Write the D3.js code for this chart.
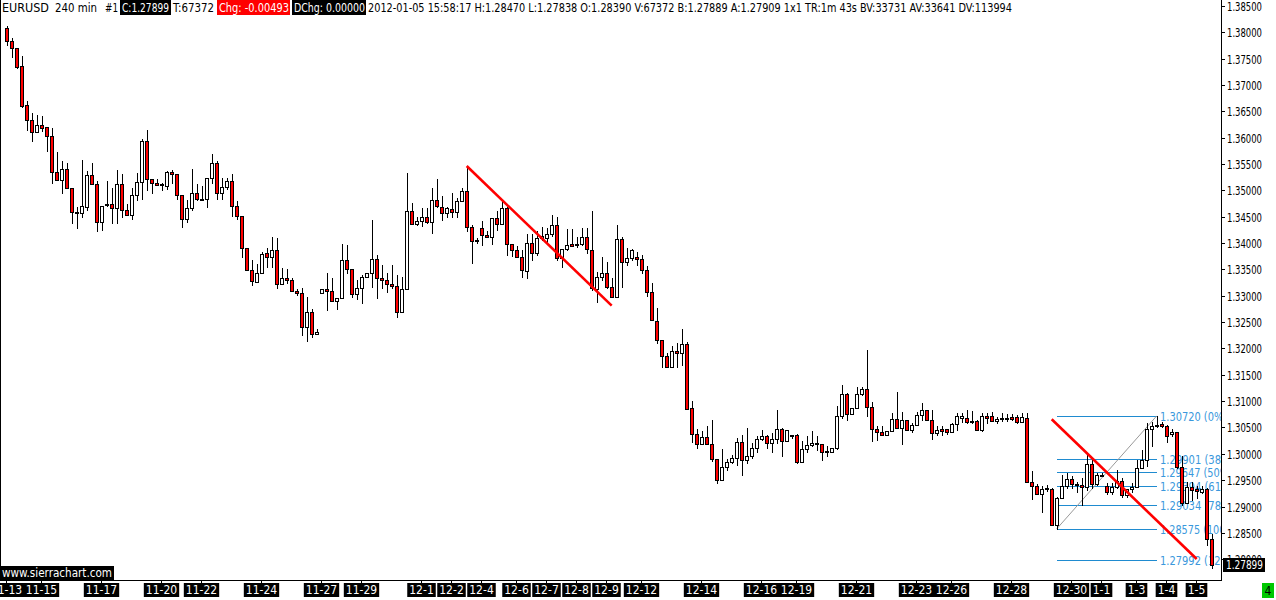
<!DOCTYPE html>
<html><head><meta charset="utf-8">
<script src="https://cdn.jsdelivr.net/npm/d3@7"></script>
<style>body{margin:0;background:#fff;overflow:hidden} svg{display:block}</style>
</head><body>
<svg id="c" width="1276" height="600"></svg>
<script>
const opens=[1.3808,1.3784,1.3770,1.3737,1.3662,1.3633,1.3610,1.3624,1.3620,1.3603,1.3534,1.3519,1.3540,1.3504,1.3459,1.3457,1.3468,1.3529,1.3512,1.3440,1.3474,1.3474,1.3466,1.3512,1.3462,1.3453,1.3491,1.3515,1.3593,1.3521,1.3514,1.3512,1.3508,1.3534,1.3531,1.3491,1.3445,1.3466,1.3495,1.3483,1.3483,1.3523,1.3552,1.3495,1.3506,1.3517,1.3470,1.3451,1.3390,1.3348,1.3326,1.3343,1.3381,1.3373,1.3386,1.3322,1.3333,1.3329,1.3309,1.3305,1.3240,1.3269,1.3227,1.3305,1.3312,1.3309,1.3290,1.3295,1.3368,1.3350,1.3303,1.3314,1.3335,1.3343,1.3369,1.3333,1.3329,1.3322,1.3318,1.3269,1.3312,1.3461,1.3436,1.3441,1.3449,1.3440,1.3481,1.3469,1.3457,1.3464,1.3459,1.3479,1.3498,1.3430,1.3406,1.3428,1.3415,1.3412,1.3447,1.3436,1.3466,1.3398,1.3387,1.3374,1.3347,1.3400,1.3381,1.3409,1.3409,1.3417,1.3434,1.3371,1.3388,1.3398,1.3396,1.3398,1.3412,1.3387,1.3312,1.3336,1.3344,1.3316,1.3297,1.3407,1.3365,1.3371,1.3373,1.3369,1.3348,1.3307,1.3252,1.3216,1.3185,1.3164,1.3195,1.3192,1.3209,1.3087,1.3037,1.3018,1.3031,1.3018,1.2990,1.2950,1.2975,1.2984,1.2993,1.3022,1.2988,1.2996,1.3011,1.3028,1.3033,1.3020,1.3028,1.3047,1.3024,1.3036,1.3036,1.2985,1.3009,1.3016,1.3020,1.3018,1.3005,1.3003,1.3012,1.3071,1.3113,1.3075,1.3087,1.3113,1.3123,1.3088,1.3047,1.3041,1.3035,1.3043,1.3066,1.3049,1.3064,1.3045,1.3054,1.3073,1.3083,1.3064,1.3039,1.3047,1.3047,1.3041,1.3057,1.3068,1.3068,1.3062,1.3062,1.3045,1.3072,1.3071,1.3063,1.3066,1.3068,1.3069,1.3069,1.3061,1.3068,1.2947,1.2938,1.2923,1.2935,1.2934,1.2865,1.2916,1.2938,1.2952,1.2942,1.2940,1.2937,1.2980,1.2942,1.2960,1.2938,1.2927,1.2937,1.2949,1.2921,1.2933,1.2937,1.2973,1.2988,1.3047,1.3053,1.3057,1.3053,1.3038,1.3041,1.2975,1.2906,1.2937,1.2933,1.2928,1.2933,1.2839];
const highs=[1.3812,1.3789,1.3770,1.3755,1.3670,1.3646,1.3643,1.3641,1.3620,1.3618,1.3572,1.3555,1.3552,1.3504,1.3469,1.3558,1.3537,1.3552,1.3517,1.3470,1.3517,1.3504,1.3539,1.3531,1.3474,1.3504,1.3533,1.3597,1.3615,1.3521,1.3521,1.3514,1.3537,1.3539,1.3531,1.3491,1.3482,1.3541,1.3512,1.3508,1.3523,1.3569,1.3555,1.3523,1.3523,1.3531,1.3479,1.3451,1.3390,1.3368,1.3360,1.3383,1.3390,1.3411,1.3409,1.3352,1.3350,1.3333,1.3312,1.3314,1.3297,1.3274,1.3236,1.3312,1.3343,1.3333,1.3295,1.3398,1.3396,1.3350,1.3330,1.3339,1.3343,1.3443,1.3377,1.3358,1.3343,1.3358,1.3339,1.3336,1.3533,1.3476,1.3450,1.3466,1.3466,1.3504,1.3521,1.3489,1.3469,1.3495,1.3485,1.3504,1.3546,1.3434,1.3409,1.3441,1.3422,1.3447,1.3460,1.3482,1.3469,1.3398,1.3395,1.3387,1.3417,1.3417,1.3422,1.3431,1.3428,1.3453,1.3449,1.3388,1.3426,1.3426,1.3411,1.3428,1.3428,1.3460,1.3346,1.3373,1.3365,1.3333,1.3434,1.3411,1.3390,1.3389,1.3384,1.3377,1.3357,1.3324,1.3276,1.3217,1.3192,1.3205,1.3210,1.3237,1.3213,1.3100,1.3047,1.3043,1.3053,1.3064,1.2990,1.3009,1.2990,1.2998,1.3030,1.3036,1.3049,1.3020,1.3033,1.3045,1.3036,1.3039,1.3083,1.3049,1.3045,1.3036,1.3038,1.3024,1.3033,1.3043,1.3033,1.3018,1.3014,1.3012,1.3090,1.3131,1.3116,1.3087,1.3127,1.3127,1.3198,1.3098,1.3053,1.3053,1.3043,1.3077,1.3118,1.3079,1.3064,1.3058,1.3079,1.3096,1.3083,1.3083,1.3053,1.3053,1.3047,1.3059,1.3078,1.3078,1.3083,1.3082,1.3064,1.3077,1.3078,1.3080,1.3069,1.3077,1.3076,1.3076,1.3074,1.3078,1.3077,1.2967,1.2943,1.2939,1.2941,1.2936,1.2919,1.2960,1.2964,1.2957,1.2947,1.2954,1.2999,1.2992,1.2963,1.2963,1.2944,1.2945,1.2969,1.2954,1.2933,1.2944,1.2988,1.3007,1.3058,1.3061,1.3072,1.3061,1.3055,1.3047,1.3041,1.2995,1.2947,1.2947,1.2939,1.2938,1.2936,1.2847];
const lows=[1.3776,1.3754,1.3733,1.3658,1.3615,1.3593,1.3610,1.3613,1.3575,1.3514,1.3519,1.3496,1.3504,1.3438,1.3429,1.3449,1.3462,1.3512,1.3422,1.3424,1.3470,1.3438,1.3438,1.3449,1.3453,1.3446,1.3482,1.3483,1.3500,1.3496,1.3510,1.3500,1.3502,1.3514,1.3484,1.3431,1.3440,1.3462,1.3481,1.3482,1.3469,1.3514,1.3483,1.3483,1.3503,1.3452,1.3445,1.3374,1.3348,1.3321,1.3326,1.3343,1.3355,1.3354,1.3315,1.3322,1.3324,1.3309,1.3301,1.3225,1.3214,1.3222,1.3227,1.3305,1.3273,1.3290,1.3274,1.3295,1.3343,1.3298,1.3293,1.3287,1.3335,1.3316,1.3295,1.3314,1.3308,1.3314,1.3260,1.3269,1.3312,1.3436,1.3434,1.3433,1.3438,1.3419,1.3469,1.3443,1.3450,1.3449,1.3450,1.3479,1.3422,1.3363,1.3400,1.3396,1.3412,1.3398,1.3425,1.3436,1.3377,1.3376,1.3374,1.3336,1.3333,1.3368,1.3377,1.3406,1.3400,1.3414,1.3368,1.3355,1.3387,1.3395,1.3392,1.3396,1.3382,1.3311,1.3289,1.3330,1.3314,1.3297,1.3297,1.3317,1.3358,1.3368,1.3358,1.3344,1.3300,1.3254,1.3211,1.3165,1.3164,1.3164,1.3165,1.3169,1.3085,1.3023,1.3011,1.3018,1.3018,1.2987,1.2945,1.2950,1.2969,1.2982,1.2979,1.2959,1.2983,1.2993,1.3004,1.3026,1.3011,1.3004,1.3021,1.2995,1.3024,1.3030,1.2983,1.2985,1.3004,1.3014,1.3007,1.2988,1.2995,1.3003,1.3009,1.3068,1.3064,1.3075,1.3087,1.3112,1.3072,1.3025,1.3026,1.3035,1.3035,1.3043,1.3049,1.3018,1.3045,1.3042,1.3054,1.3064,1.3064,1.3028,1.3036,1.3036,1.3038,1.3041,1.3045,1.3061,1.3058,1.3058,1.3045,1.3044,1.3058,1.3063,1.3058,1.3063,1.3063,1.3064,1.3058,1.3061,1.2947,1.2914,1.2923,1.2890,1.2930,1.2865,1.28575,1.2916,1.2936,1.2936,1.2928,1.2903,1.2931,1.2935,1.2941,1.2957,1.2924,1.2924,1.2935,1.2919,1.2919,1.2927,1.2937,1.2973,1.2976,1.3014,1.3051,1.3051,1.3023,1.3033,1.2973,1.2903,1.2906,1.2912,1.2916,1.2926,1.2827,1.27838];
const closes=[1.3784,1.3770,1.3735,1.3661,1.3634,1.3610,1.3624,1.3618,1.3603,1.3534,1.3519,1.3540,1.3504,1.3459,1.3457,1.3470,1.3529,1.3512,1.3440,1.3470,1.3472,1.3466,1.3512,1.3463,1.3453,1.3491,1.3515,1.3593,1.3521,1.3514,1.3510,1.3510,1.3534,1.3531,1.3491,1.3445,1.3466,1.3495,1.3483,1.3482,1.3523,1.3552,1.3495,1.3506,1.3517,1.3470,1.3451,1.3390,1.3348,1.3328,1.3343,1.3379,1.3373,1.3386,1.3322,1.3333,1.3329,1.3309,1.3305,1.3240,1.3269,1.3227,1.3231,1.3312,1.3309,1.3290,1.3295,1.3368,1.3350,1.3303,1.3314,1.3335,1.3343,1.3369,1.3333,1.3329,1.3322,1.3318,1.3269,1.3312,1.3461,1.3436,1.3441,1.3449,1.3440,1.3481,1.3470,1.3457,1.3466,1.3459,1.3479,1.3498,1.3430,1.3404,1.3404,1.3415,1.3412,1.3447,1.3436,1.3466,1.3398,1.3387,1.3374,1.3349,1.3400,1.3381,1.3409,1.3414,1.3417,1.3434,1.3371,1.3388,1.3396,1.3395,1.3398,1.3412,1.3388,1.3314,1.3336,1.3344,1.3316,1.3297,1.3407,1.3365,1.3371,1.3387,1.3369,1.3348,1.3307,1.3254,1.3216,1.3185,1.3164,1.3195,1.3192,1.3209,1.3085,1.3037,1.3018,1.3031,1.3018,1.2990,1.2950,1.2975,1.2984,1.2993,1.3022,1.2988,1.2996,1.3011,1.3028,1.3033,1.3020,1.3028,1.3047,1.3024,1.3045,1.3034,1.2985,1.3009,1.3016,1.3020,1.3018,1.3004,1.3003,1.3012,1.3071,1.3113,1.3075,1.3087,1.3113,1.3123,1.3088,1.3047,1.3041,1.3035,1.3043,1.3066,1.3049,1.3064,1.3045,1.3054,1.3073,1.3083,1.3064,1.3039,1.3045,1.3044,1.3041,1.3057,1.3072,1.3072,1.3060,1.3060,1.3045,1.3072,1.3068,1.3063,1.3066,1.3068,1.3066,1.3067,1.3061,1.3069,1.2947,1.2938,1.2923,1.2933,1.2933,1.2865,1.2916,1.2938,1.2952,1.2942,1.2940,1.2937,1.2980,1.2942,1.2960,1.2959,1.2927,1.2937,1.2949,1.2921,1.2933,1.2937,1.2973,1.2988,1.3047,1.3053,1.3055,1.3053,1.3034,1.3042,1.2975,1.2906,1.2937,1.2931,1.2930,1.2934,1.2838,1.27899];

const dateLabels=["11-13","11-15","11-17","11-20","11-22","11-24","11-27","11-29","12-1","12-2","12-4","12-6","12-7","12-8","12-9","12-12","12-14","12-16","12-19","12-21","12-23","12-26","12-28","12-30","1-1","1-3","1-4","1-5"];
const dateBars=[0,7,19,31,39,51,63,71,83,89,95,102,108,114,120,127,139,151,158,170,182,189,201,213,219,226,232,238];

const priceTicks=[1.280,1.285,1.290,1.295,1.300,1.305,1.310,1.315,1.320,1.325,1.330,1.335,1.340,1.345,1.350,1.355,1.360,1.365,1.370,1.375,1.380,1.385];

const fibValues=[1.30720,1.29901,1.29647,1.29394,1.29034,1.28575,1.27992];
const fibPcts=["0%","38.2%","50%","61.8%","78.6%","100%","127.2%"];
const fibBars=[210,230];

const trendStartBars=[92,209], trendStartPrices=[1.35463,1.30656];
const trendEndBars=[121,238], trendEndPrices=[1.32812,1.28004];

const lastPrice=1.27899;
const headerPlain=["EURUSD","240 min","#1"];
const headerText={c:"C:1.27899",t:"T:67372",chg:"Chg: -0.00493",dchg:"DChg: 0.00000",
 rest:"2012-01-05 15:58:17 H:1.28470 L:1.27838 O:1.28390 V:67372 B:1.27889 A:1.27909 1x1 TR:1m 43s BV:33731 AV:33641 DV:113994"};

const FONT="'Liberation Sans Narrow','DejaVu Sans Condensed','Arial Narrow',sans-serif";
const svg=d3.select("#c");
const W=1276,H=600, plotR=1221, plotB=580;
const n=opens.length;
const x=d3.scaleLinear().domain([0,n-1]).range([6.7,6.7+5*(n-1)]);
const y=d3.scaleLinear().domain([1.28,1.385]).range([559.2,6]);

svg.append("rect").attr("width",W).attr("height",H).attr("fill","#fff");
svg.append("defs").append("clipPath").attr("id","plot").append("rect").attr("x",0).attr("y",0).attr("width",plotR).attr("height",plotB);
const g=svg.append("g").attr("clip-path","url(#plot)");

// fib retracement
const fibCol="#1f8bd0";
const x0=x(fibBars[0]), x1=x(fibBars[1]);
fibValues.forEach((v,k)=>{
  const yy=Math.round(y(v))+0.5;
  g.append("line").attr("x1",Math.round(x0)).attr("x2",Math.round(x1)).attr("y1",yy).attr("y2",yy).attr("stroke",fibCol).attr("stroke-width",1);
  const s=v.toFixed(5)+" ("+fibPcts[k]+")";
  g.append("text").attr("x",Math.round(x1)+3).attr("y",yy).attr("dominant-baseline","central")
   .attr("font-family",FONT).attr("font-size",13).attr("fill","#3a98dc")
   .attr("textLength",s.length*5.6).attr("lengthAdjust","spacingAndGlyphs").text(s);
});
g.append("line").attr("x1",x0).attr("y1",y(fibValues[5])).attr("x2",x1).attr("y2",y(fibValues[0])).attr("stroke","#999").attr("stroke-width",1);

// candles
const idx=d3.range(n);
g.selectAll("line.w").data(idx).join("line").attr("class","w")
 .attr("x1",i=>Math.round(x(i))+0.5).attr("x2",i=>Math.round(x(i))+0.5)
 .attr("y1",i=>Math.round(y(highs[i]))).attr("y2",i=>Math.round(y(lows[i]))+1)
 .attr("stroke","#000").attr("stroke-width",1);
g.selectAll("rect.b").data(idx).join("rect").attr("class","b")
 .attr("x",i=>Math.round(x(i))-1.5).attr("width",3)
 .attr("y",i=>Math.round(y(Math.max(opens[i],closes[i])))+0.5)
 .attr("height",i=>Math.max(1,Math.round(y(Math.min(opens[i],closes[i])))-Math.round(y(Math.max(opens[i],closes[i])))))
 .attr("fill",i=>closes[i]<opens[i]?"#ff0000":"#ffffff").attr("stroke","#000").attr("stroke-width",1);

// trend lines
trendStartBars.forEach((b,k)=>{
  g.append("line").attr("x1",x(b)).attr("y1",y(trendStartPrices[k])).attr("x2",x(trendEndBars[k])).attr("y2",y(trendEndPrices[k]))
   .attr("stroke","#ff0000").attr("stroke-width",2.6);
});

// frame
svg.append("line").attr("x1",0.5).attr("x2",0.5).attr("y1",0).attr("y2",plotB).attr("stroke","#000");
svg.append("line").attr("x1",plotR+0.5).attr("x2",plotR+0.5).attr("y1",0).attr("y2",plotB+1).attr("stroke","#000");
svg.append("line").attr("x1",0).attr("x2",plotR+1).attr("y1",plotB+0.5).attr("y2",plotB+0.5).attr("stroke","#000");

// y axis
priceTicks.forEach(p=>{
  const yy=Math.round(y(p))+0.5;
  svg.append("line").attr("x1",plotR).attr("x2",plotR+4).attr("y1",yy).attr("y2",yy).attr("stroke","#000");
  svg.append("text").attr("x",plotR+6).attr("y",yy).attr("dominant-baseline","central")
   .attr("font-family",FONT).attr("font-size",12).attr("fill","#000")
   .attr("textLength",35).attr("lengthAdjust","spacingAndGlyphs").text(p.toFixed(5));
});
// last price box
const ly=Math.round(y(lastPrice));
svg.append("rect").attr("x",1223).attr("y",ly-7).attr("width",42).attr("height",14).attr("fill","#000");
svg.append("text").attr("x",1226).attr("y",ly).attr("dominant-baseline","central")
 .attr("font-family",FONT).attr("font-size",12).attr("fill","#fff")
 .attr("textLength",37).attr("lengthAdjust","spacingAndGlyphs").text(lastPrice.toFixed(5));

// date axis
dateLabels.forEach((lab,k)=>{
  const xx=Math.round(x(dateBars[k]))-0.5;
  svg.append("line").attr("x1",xx).attr("x2",xx).attr("y1",plotB).attr("y2",plotB+4).attr("stroke","#000");
  const lg=svg.append("g");
  const r=lg.append("rect").attr("y",583).attr("height",14).attr("fill","#000");
  const t=lg.append("text").attr("x",xx).attr("y",590).attr("text-anchor","middle").attr("dominant-baseline","central")
   .attr("font-family",FONT).attr("font-size",12).attr("fill","#fff").text(lab);
  const w=t.node().getComputedTextLength();
  r.attr("x",xx-w/2-2).attr("width",w+4);
});
// sierrachart tag
svg.append("rect").attr("x",0).attr("y",566).attr("width",114).attr("height",14).attr("fill","#000");
svg.append("text").attr("x",2).attr("y",573).attr("dominant-baseline","central").attr("font-family",FONT).attr("font-size",12)
 .attr("fill","#fff").attr("textLength",110).attr("lengthAdjust","spacingAndGlyphs").text("www.sierrachart.com");
// green box
svg.append("rect").attr("x",1262).attr("y",583).attr("width",12).attr("height",15).attr("fill","#00c800");
svg.append("text").attr("x",1268).attr("y",590.5).attr("text-anchor","middle").attr("dominant-baseline","central").attr("font-family",FONT).attr("font-size",12).attr("fill","#000").text("4");

// header
function htext(t,xp,w,fill){
  svg.append("text").attr("x",xp).attr("y",7).attr("dominant-baseline","central").attr("font-family",FONT).attr("font-size",12.5)
   .attr("fill",fill).attr("textLength",w).attr("lengthAdjust","spacingAndGlyphs").text(t);
}
htext(headerPlain[0],2,47,"#000");
htext(headerPlain[1],55,42,"#000");
htext(headerPlain[2],105,13,"#000");
svg.append("rect").attr("x",120).attr("y",0).attr("width",51).attr("height",15).attr("fill","#000");
htext(headerText.c,122,47,"#fff");
htext(headerText.t,173,41,"#000");
svg.append("rect").attr("x",217).attr("y",0).attr("width",73).attr("height",15).attr("fill","#ff0000");
htext(headerText.chg,219,70,"#fff");
svg.append("rect").attr("x",292).attr("y",0).attr("width",74).attr("height",15).attr("fill","#000");
htext(headerText.dchg,294,71,"#fff");
htext(headerText.rest,368,644,"#000");
</script>
</body></html>
